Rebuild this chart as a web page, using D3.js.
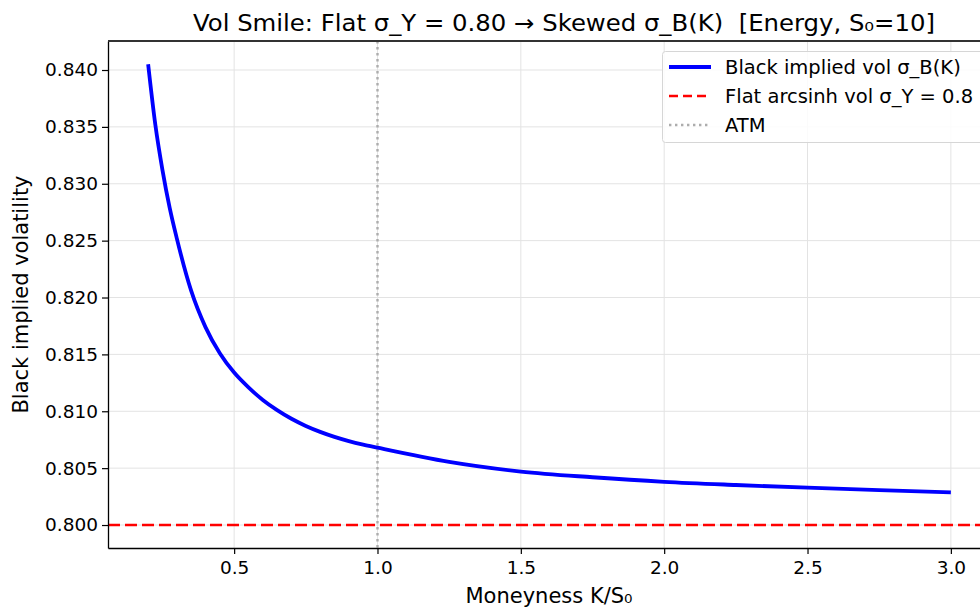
<!DOCTYPE html>
<html>
<head>
<meta charset="utf-8">
<script src="https://cdn.jsdelivr.net/npm/d3@7"></script>
<style>
  body { margin: 0; background: #fff; }
  svg { font-family: "DejaVu Sans", sans-serif; }
</style>
</head>
<body>
<script>
// Vol smile chart

// 1. Data
var moneyness = [0.20, 0.225, 0.25, 0.275, 0.30, 0.35, 0.40, 0.45, 0.50, 0.55, 0.60, 0.65, 0.70, 0.75, 0.80, 0.85, 0.90, 0.95,
                 1.00, 1.25, 1.50, 1.75, 2.00, 2.25, 2.50, 2.75, 3.00];
var blackVol = [0.8405, 0.8352, 0.8312, 0.8279, 0.8252, 0.8206, 0.8174, 0.8151, 0.8134, 0.8121, 0.8110, 0.8101, 0.80934, 0.80871, 0.80819, 0.80775, 0.80738, 0.80707,
                0.8068, 0.80555, 0.8047, 0.8042, 0.8038, 0.80352, 0.80328, 0.80306, 0.80287];
var flatVol = 0.8;
var atm = 1.0;
var xTicks = [0.5, 1.0, 1.5, 2.0, 2.5, 3.0];
var yTicks = [0.800, 0.805, 0.810, 0.815, 0.820, 0.825, 0.830, 0.835, 0.840];
var legendLabels = ["Black implied vol σ_B(K)", "Flat arcsinh vol σ_Y = 0.8", "ATM"];

// 2. Margins, width and height
var W = 980, H = 607;
var margin = {top: 41, right: -11, bottom: 59, left: 108},
    width = W - margin.left - margin.right,
    height = H - margin.top - margin.bottom;

var x = d3.scaleLinear().domain([0.06, 3.14]).range([0, width]);
var y = d3.scaleLinear().domain([0.79798, 0.84255]).range([height, 0]);

var svg = d3.select("body").append("svg")
    .attr("width", W)
    .attr("height", H);

var g = svg.append("g")
    .attr("transform", "translate(" + margin.left + "," + margin.top + ")");

// 3. Grid
g.append("g").selectAll("line").data(xTicks).enter().append("line")
    .attr("x1", function(d) { return x(d); }).attr("x2", function(d) { return x(d); })
    .attr("y1", 0).attr("y2", height)
    .attr("stroke", "#e3e3e3").attr("stroke-width", 1);
g.append("g").selectAll("line").data(yTicks).enter().append("line")
    .attr("y1", function(d) { return y(d); }).attr("y2", function(d) { return y(d); })
    .attr("x1", 0).attr("x2", width)
    .attr("stroke", "#e3e3e3").attr("stroke-width", 1);

// 4. Reference lines
g.append("line")
    .attr("x1", x(atm)).attr("x2", x(atm))
    .attr("y1", 0).attr("y2", height)
    .attr("stroke", "#adadad").attr("stroke-width", 2.4)
    .attr("stroke-dasharray", "2.4,3.6");

g.append("line")
    .attr("x1", 0).attr("x2", width)
    .attr("y1", y(flatVol)).attr("y2", y(flatVol))
    .attr("stroke", "#ff0000").attr("stroke-width", 2.5)
    .attr("stroke-dasharray", "12,5");

// 5. The smile curve
var line = d3.line()
    .x(function(d, i) { return x(moneyness[i]); })
    .y(function(d) { return y(d); })
    .curve(d3.curveMonotoneX);

g.append("path")
    .datum(blackVol)
    .attr("d", line)
    .attr("fill", "none")
    .attr("stroke", "#0000ff")
    .attr("stroke-width", 3.8);

// 6. Axes
var xAxis = g.append("g")
    .attr("transform", "translate(0," + height + ")")
    .call(d3.axisBottom(x).tickValues(xTicks).tickFormat(d3.format(".1f")).tickSize(6).tickSizeOuter(0).tickPadding(7));
var yAxis = g.append("g")
    .call(d3.axisLeft(y).tickValues(yTicks).tickFormat(d3.format(".3f")).tickSize(6).tickSizeOuter(0).tickPadding(4));

[xAxis, yAxis].forEach(function(a) {
    a.attr("font-size", null).attr("font-family", null);
    a.select(".domain").attr("stroke", "#000").attr("stroke-width", 1.3);
    a.selectAll(".tick line").attr("stroke", "#000").attr("stroke-width", 1.2);
    a.selectAll(".tick text").attr("fill", "#000").style("font-size", "18.5px");
});

// top spine
g.append("line")
    .attr("x1", 0).attr("x2", width).attr("y1", 0).attr("y2", 0)
    .attr("stroke", "#333").attr("stroke-width", 2);

// 7. Labels
svg.append("text")
    .attr("x", 564).attr("y", 31)
    .attr("text-anchor", "middle")
    .attr("textLength", 742).attr("lengthAdjust", "spacingAndGlyphs")
    .style("font-size", "23px")
    .style("white-space", "pre")
    .text("Vol Smile: Flat σ_Y = 0.80 → Skewed σ_B(K)  [Energy, S₀=10]");

svg.append("text")
    .attr("x", 549).attr("y", 603)
    .attr("text-anchor", "middle")
    .style("font-size", "21px")
    .text("Moneyness K/S₀");

svg.append("text")
    .attr("transform", "translate(28," + (margin.top + height / 2) + ") rotate(-90)")
    .attr("text-anchor", "middle")
    .style("font-size", "21px")
    .text("Black implied volatility");

// 8. Legend
var leg = svg.append("g").attr("transform", "translate(662,51)");
leg.append("rect")
    .attr("x", 0.5).attr("y", 0.5).attr("width", 330).attr("height", 91)
    .attr("rx", 3)
    .attr("fill", "#fff").attr("fill-opacity", 0.85)
    .attr("stroke", "#d6d6d6").attr("stroke-width", 1);

var legStyles = [
    {stroke: "#0000ff", width: 3.8, dash: null},
    {stroke: "#ff0000", width: 2.5, dash: "9,5"},
    {stroke: "#adadad", width: 2.4, dash: "2.4,3.6"}
];
legendLabels.forEach(function(lbl, i) {
    var yy = 16 + i * 29;
    leg.append("line")
        .attr("x1", 7).attr("x2", 49).attr("y1", yy).attr("y2", yy)
        .attr("stroke", legStyles[i].stroke)
        .attr("stroke-width", legStyles[i].width)
        .attr("stroke-dasharray", legStyles[i].dash);
    leg.append("text")
        .attr("x", 63).attr("y", yy + 7)
        .style("font-size", "19.5px")
        .text(lbl);
});
</script>
</body>
</html>
